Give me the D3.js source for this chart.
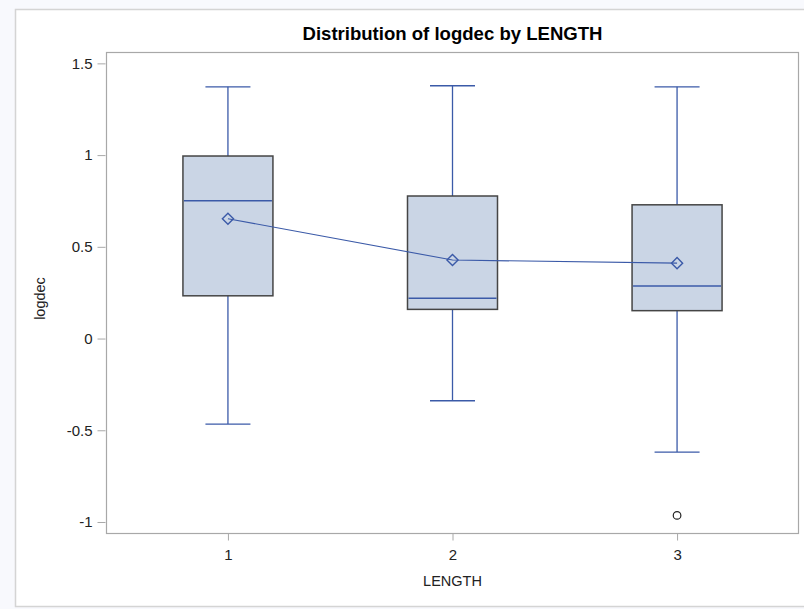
<!DOCTYPE html>
<html>
<head>
<meta charset="utf-8">
<script src="https://cdn.jsdelivr.net/npm/d3@7"></script>
<style>
  html, body { margin: 0; padding: 0; background: #f8f9fd; }
  svg { display: block; }
  text { font-family: "Liberation Sans", Arial, sans-serif; }
</style>
</head>
<body>
<svg id="chart" width="804" height="609"></svg>
<script>
// ---- data ----
const categories = ["1", "2", "3"];
const whiskerHigh = [1.372, 1.378, 1.372];
const q3Values    = [0.995, 0.777, 0.729];
const medians     = [0.751, 0.219, 0.286];
const means       = [0.653, 0.428, 0.411];
const q1Values    = [0.233, 0.159, 0.152];
const whiskerLow  = [-0.466, -0.339, -0.619];
const outliers    = [{cat: "3", value: -0.964}];
const yTicks      = [-1, -0.5, 0, 0.5, 1, 1.5];
const titleText   = "Distribution of logdec by LENGTH";
const xLabel      = "LENGTH";
const yLabel      = "logdec";

const boxes = categories.map((c, i) => ({
  cat: c, hi: whiskerHigh[i], q3: q3Values[i], med: medians[i],
  mean: means[i], q1: q1Values[i], lo: whiskerLow[i]
}));

// ---- layout ----
const svg = d3.select("#chart");
const plot = {left: 106, right: 799, top: 52, bottom: 533};

const x = d3.scalePoint().domain(categories)
  .range([plot.left, plot.right]).padding(0.543);
const y = d3.scaleLinear().domain([-1.06, 1.562])
  .range([plot.bottom, plot.top]);

const blue = "#3b5aa8";
const boxW = 90, capW = 45;

// panel
svg.append("rect").attr("x", 15.5).attr("y", 9.5).attr("width", 800).attr("height", 597)
  .attr("fill", "#ffffff").attr("stroke", "#d4d4d4").attr("stroke-width", 1.5);

// title
svg.append("text").attr("x", (plot.left + plot.right) / 2).attr("y", 40)
  .attr("text-anchor", "middle").attr("font-size", 18).attr("font-weight", "bold")
  .attr("textLength", 300).attr("lengthAdjust", "spacingAndGlyphs")
  .attr("fill", "#000").text(titleText);

// axes
const yAxis = d3.axisLeft(y).tickValues(yTicks).tickSize(8).tickPadding(5)
  .tickFormat(d => String(d));
const gy = svg.append("g").attr("transform", `translate(${plot.left - 0.5},0)`).call(yAxis);
gy.select(".domain").remove();
gy.selectAll(".tick line").attr("stroke", "#a8a8a8");
gy.selectAll(".tick text").attr("font-size", 15).attr("fill", "#222")
  .attr("font-family", "'Liberation Sans', Arial, sans-serif");

const xAxis = d3.axisBottom(x).tickSize(7).tickPadding(9);
const gx = svg.append("g").attr("transform", `translate(0,${plot.bottom + 0.5})`).call(xAxis);
gx.select(".domain").remove();
gx.selectAll(".tick line").attr("stroke", "#a8a8a8");
gx.selectAll(".tick text").attr("font-size", 15).attr("fill", "#222")
  .attr("font-family", "'Liberation Sans', Arial, sans-serif");

// frame
svg.append("rect").attr("x", plot.left + 0.5).attr("y", plot.top + 0.5)
  .attr("width", plot.right - plot.left - 1).attr("height", plot.bottom - plot.top)
  .attr("fill", "none").attr("stroke", "#a8a8a8").attr("stroke-width", 1.2);

// axis labels
svg.append("text").attr("x", (plot.left + plot.right) / 2).attr("y", 586)
  .attr("text-anchor", "middle").attr("font-size", 14.5).attr("fill", "#222").text(xLabel);
svg.append("text").attr("transform", `translate(45,${(plot.top + plot.bottom) / 2 + 6}) rotate(-90)`)
  .attr("text-anchor", "middle").attr("font-size", 14.5).attr("fill", "#222").text(yLabel);

// boxes
const g = svg.append("g");
boxes.forEach(b => {
  const cx = x(b.cat);
  // whiskers
  g.append("line").attr("x1", cx).attr("x2", cx).attr("y1", y(b.hi)).attr("y2", y(b.q3))
    .attr("stroke", blue).attr("stroke-width", 1.3);
  g.append("line").attr("x1", cx).attr("x2", cx).attr("y1", y(b.q1)).attr("y2", y(b.lo))
    .attr("stroke", blue).attr("stroke-width", 1.3);
  g.append("line").attr("x1", cx - capW / 2).attr("x2", cx + capW / 2)
    .attr("y1", y(b.hi)).attr("y2", y(b.hi)).attr("stroke", blue).attr("stroke-width", 1.3);
  g.append("line").attr("x1", cx - capW / 2).attr("x2", cx + capW / 2)
    .attr("y1", y(b.lo)).attr("y2", y(b.lo)).attr("stroke", blue).attr("stroke-width", 1.3);
  // box
  g.append("rect").attr("x", cx - boxW / 2).attr("y", y(b.q3))
    .attr("width", boxW).attr("height", y(b.q1) - y(b.q3))
    .attr("fill", "#cad5e5").attr("stroke", "#454545").attr("stroke-width", 1.5);
  // median
  g.append("line").attr("x1", cx - boxW / 2 + 1).attr("x2", cx + boxW / 2 - 1)
    .attr("y1", y(b.med)).attr("y2", y(b.med)).attr("stroke", blue).attr("stroke-width", 1.5);
});

// mean connect line
const line = d3.line().x(d => x(d.cat)).y(d => y(d.mean));
g.append("path").datum(boxes).attr("d", line).attr("fill", "none")
  .attr("stroke", blue).attr("stroke-width", 1.1);

// mean diamonds
const diamond = d3.symbol().type(d3.symbolSquare).size(62);
g.selectAll(".mean").data(boxes).join("path").attr("class", "mean")
  .attr("d", diamond)
  .attr("transform", d => `translate(${x(d.cat)},${y(d.mean)}) rotate(45)`)
  .attr("fill", "none").attr("stroke", blue).attr("stroke-width", 1.4);

// outliers
g.selectAll(".outlier").data(outliers).join("circle").attr("class", "outlier")
  .attr("cx", d => x(d.cat)).attr("cy", d => y(d.value)).attr("r", 3.8)
  .attr("fill", "none").attr("stroke", "#222").attr("stroke-width", 1.2);
</script>
</body>
</html>
